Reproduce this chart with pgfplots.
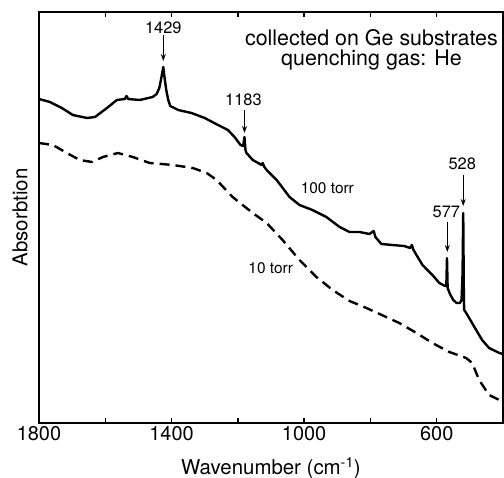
\documentclass[border=0pt]{standalone}
\usepackage{pgfplots}
\pgfplotsset{compat=1.18}
\usepackage{fontspec}
\setmainfont{TeX Gyre Heros}
\usetikzlibrary{arrows.meta}

\begin{document}
\begin{tikzpicture}
\begin{axis}[
 scale only axis, width=464bp, height=411bp,
 xmin=400, xmax=1800, x dir=reverse,
 ymin=-423, ymax=-12,
 xtick={1800,1600,...,400}, xticklabels={1800,,1400,,1000,,600,},
 ytick=\empty,
 tick align=inside, xtick pos=both, major tick length=5bp,
 tick style={line width=1.5bp, black},
 axis line style={line width=2bp},
 /pgf/number format/assume math mode=true,
 xticklabel style={font=\fontsize{20}{24}\selectfont},
 label style={font=\fontsize{20.5}{24}\selectfont},
 xlabel={Wavenumber (cm\textsuperscript{-1})},
 ylabel={Absorbtion},
 xlabel style={at={(axis description cs:0.5,-0.1095)}, anchor=center},
 ylabel style={at={(axis description cs:-0.041,0.5)}, anchor=center},
 clip=false
]
\coordinate (SW) at (axis description cs:0,0);
% 100 torr
\addplot[black, line width=2.4bp, mark=none, line join=round] coordinates {
(1800,-99) (1767,-102) (1731,-108) (1698,-115) (1655,-118) (1631,-117)
(1595,-108) (1565,-100) (1541,-99) (1536,-96) (1531,-99) (1496,-100)
(1457,-97) (1445,-94) (1437,-88) (1431,-78) (1425,-67) (1421,-78)
(1416,-90) (1410,-100) (1404,-106) (1380,-110) (1340,-113) (1300,-118)
(1260,-125) (1230,-130) (1210,-137) (1192,-145) (1184,-146) (1180,-137)
(1177,-150) (1174,-153) (1155,-160) (1128,-165) (1125,-163) (1120,-167)
(1113,-170) (1083,-180) (1044,-197) (1014,-205) (975,-210) (933,-217)
(893,-227) (863,-232) (833,-232) (803,-234) (790,-231) (785,-237)
(767,-244) (734,-245) (698,-246) (680,-248) (675,-245) (670,-250)
(661,-255) (643,-265) (613,-275) (592,-283) (575,-286) (571,-286)
(569,-258) (567,-288) (560,-294) (550,-300) (540,-303) (530,-303)
(525,-300) (522,-273) (520,-213) (518,-300) (517,-310) (511,-313)
(495,-322) (481,-330) (463,-340) (442,-348) (411,-353) (400,-354)
};
% 10 torr
\addplot[black, line width=2.4bp, mark=none, dash pattern=on 10bp off 6bp] coordinates {
(1800,-143) (1758,-145) (1716,-153) (1677,-160) (1640,-162) (1607,-157)
(1562,-153) (1517,-157) (1466,-163) (1396,-165) (1336,-168) (1294,-173)
(1264,-180) (1216,-197) (1155,-213) (1113,-223) (1065,-240) (1014,-260)
(963,-277) (914,-290) (863,-301) (812,-308) (713,-323) (661,-333)
(613,-343) (562,-352) (511,-358) (493,-363) (472,-380) (442,-395)
(411,-400) (400,-401)
};
% annotations
\tikzset{pk/.style={font=\fontsize{16.5}{19}\selectfont},
 tl/.style={font=\fontsize{15.5}{18}\selectfont},
 ar/.style={line width=1bp, -{Stealth[length=7bp,width=5bp]}}}
\node[pk] at (axis cs:1425,-27.5) {1429};
\draw[ar] (axis cs:1425,-35) -- (axis cs:1425,-61);
\node[pk] at (axis cs:1183,-100) {1183};
\draw[ar] (axis cs:1180,-110) -- (axis cs:1180,-133);
\node[pk] at (axis cs:523,-164) {528};
\draw[ar] (axis cs:520,-175) -- (axis cs:520,-206);
\node[pk] at (axis cs:571,-212) {577};
\draw[ar] (axis cs:568,-222) -- (axis cs:568,-252);
\node[tl] at (axis cs:930,-188) {100 torr};
\node[tl] at (axis cs:1101,-268) {10 torr};
\node[align=center, font=\fontsize{21.5}{20}\selectfont] at (axis cs:797,-50)
 {collected on Ge substrates\\quenching gas: He};
\end{axis}
\pgfresetboundingbox
\path ([shift={(-39bp,-55bp)}]SW) rectangle ++(504bp,478bp);
\end{tikzpicture}
\end{document}
